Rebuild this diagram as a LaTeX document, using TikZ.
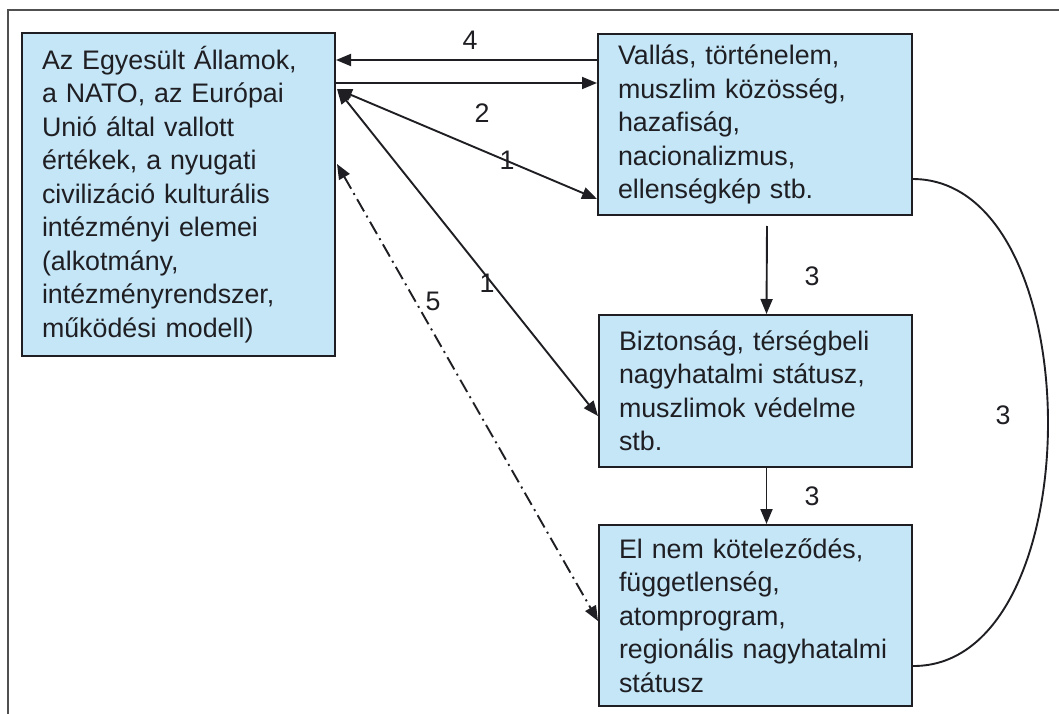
\documentclass[tikz,border=0pt]{standalone}
\usepackage{fontspec}
\setmainfont{Liberation Sans}
\usetikzlibrary{arrows.meta}
\definecolor{boxfill}{RGB}{196,230,247}
\definecolor{ink}{RGB}{30,30,35}
\definecolor{framecol}{RGB}{80,80,80}
\tikzset{
  box/.style={draw=ink, line width=2pt, fill=boxfill, text=ink, align=left,
    inner xsep=20pt, inner ysep=0pt, font=\fontsize{26.8}{33.5}\selectfont},
  conn/.style={draw=ink, line width=1.9pt},
  toarrow/.style={-{Triangle[length=15pt,width=12pt]}},
  bothways/.style={{Triangle[length=15pt,width=12pt]}-{Triangle[length=15pt,width=12pt]}},
  dashdot/.style={dash pattern=on 14pt off 5pt on 2pt off 5pt},
  lab/.style={text=ink, font=\fontsize{26.8}{30}\selectfont, inner sep=0pt}
}
\begin{document}
\begin{tikzpicture}[x=1pt,y=-1pt]
\useasboundingbox (0,0) rectangle (1059,714);
% frame
\coordinate (f1) at (8,714);
\coordinate (f2) at (8,10);
\coordinate (f3) at (1059,10);
\draw[framecol, line width=1.8pt] (f1) -- (f2) -- (f3);

% boxes
\node[box, text width=273pt, minimum height=323pt] (A) at (178.5,194.5)
  {Az Egyesült Államok,\\ a NATO, az Európai\\ Unió által vallott\\ értékek, a nyugati\\ civilizáció kulturális\\ intézményi elemei\\ (alkotmány,\\ intézményrendszer,\\ működési modell)};
\node[box, text width=274pt, minimum height=181pt] (B) at (755,124.5)
  {Vallás, történelem,\\ muszlim közösség,\\ hazafiság,\\ nacionalizmus,\\ ellenségkép stb.};
\node[box, text width=273pt, minimum height=152pt] (C) at (755.5,391)
  {Biztonság, térségbeli\\ nagyhatalmi státusz,\\ muszlimok védelme\\ stb.};
\node[box, text width=273pt, minimum height=181pt] (D) at (755.5,615.5)
  {El nem köteleződés,\\ függetlenség,\\ atomprogram,\\ regionális nagyhatalmi\\ státusz};

% connectors
\draw[conn, toarrow] ([yshift=-27pt]B.north west) -- ([yshift=-28pt]A.north east);
\draw[conn, toarrow] ([yshift=-51pt]A.north east) -- ([yshift=-50pt]B.north west);
\draw[conn, bothways] ([xshift=1pt,yshift=-57pt]A.north east) -- ([yshift=-166pt]B.north west);
\draw[conn, bothways] ([xshift=1pt,yshift=-57pt]A.north east) -- ([yshift=-102pt]C.north west);
\draw[conn, bothways, dashdot] ([xshift=1pt,yshift=-132pt]A.north east) -- ([yshift=-97pt]D.north west);
\draw[conn, toarrow] ([xshift=12pt,yshift=-10pt]B.south) -- ([xshift=11pt]C.north);
\draw[conn, toarrow] ([xshift=11pt]C.south) -- ([xshift=11pt]D.north);
\draw[conn] ([yshift=-146pt]B.north east) .. controls (1093,180) and (1093,667) .. ([yshift=-142pt]D.north east);

% labels
\node[lab] (l4) at (470,40) {4};
\node[lab] (l2) at (482,113) {2};
\node[lab] (l1a) at (507,160) {1};
\node[lab] (l1b) at (487,283) {1};
\node[lab] (l5) at (433,301) {5};
\node[lab] (l3a) at (812,276) {3};
\node[lab] (l3b) at (812,496) {3};
\node[lab] (l3c) at (1003,415) {3};
\end{tikzpicture}
\end{document}
